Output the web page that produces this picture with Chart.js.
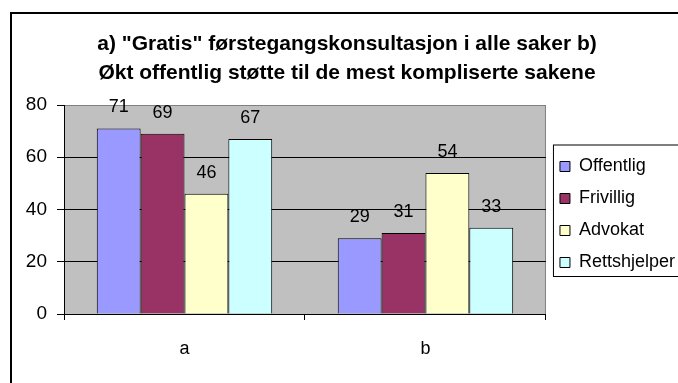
<!DOCTYPE html>
<html lang="no">
<head>
    <meta charset="UTF-8">
    <title>Konsultasjon</title>
    <style>
        body { margin: 0; background: #fff; }
        canvas { display: block; }
    </style>
    <script src="https://cdn.jsdelivr.net/npm/chart.js"></script>
    <script>
        var categories = ['a', 'b'];
        var offentlig = [71, 29];
        var frivillig = [69, 31];
        var advokat = [46, 54];
        var rettshjelper = [67, 33];
        var yTicks = [0, 20, 40, 60, 80];

        var titleLines = [
            'a) "Gratis" førstegangskonsultasjon i alle saker b)',
            'Økt offentlig støtte til de mest kompliserte sakene'
        ];

        var FONT = '"Liberation Sans", Arial, sans-serif';

        // grey plot area + outer frame of the chart
        var backgroundPlugin = {
            id: 'background',
            beforeDraw: function (chart) {
                var ctx = chart.ctx;
                var a = chart.chartArea;
                ctx.save();
                ctx.fillStyle = '#ffffff';
                ctx.fillRect(0, 0, chart.width, chart.height);
                ctx.fillStyle = '#c0c0c0';
                ctx.fillRect(a.left, a.top, a.right - a.left, a.bottom - a.top);
                ctx.strokeStyle = '#808080';
                ctx.lineWidth = 1;
                ctx.strokeRect(a.left + 0.5, a.top + 0.5, a.right - a.left - 1, a.bottom - a.top);
                ctx.fillStyle = '#000000';
                ctx.fillRect(10, 12, chart.width, 2);
                ctx.fillRect(10, 12, 2, chart.height);
                ctx.restore();
            },
            afterDraw: function (chart) {
                // box round the legend
                var lg = chart.legend;
                if (!lg || !lg.legendHitBoxes.length) return;
                var boxes = lg.legendHitBoxes;
                var first = boxes[0];
                var last = boxes[boxes.length - 1];
                var ctx = chart.ctx;
                ctx.save();
                ctx.strokeStyle = '#000000';
                ctx.lineWidth = 1;
                var x = first.left - 6.5;
                var y = first.top - 12.5;
                ctx.strokeRect(x, y, chart.width, last.top + last.height + 5 - y);
                ctx.restore();
            }
        };

        // value printed above every bar
        var valueLabels = {
            id: 'valueLabels',
            afterDatasetsDraw: function (chart) {
                var ctx = chart.ctx;
                ctx.save();
                ctx.font = '18px ' + FONT;
                ctx.fillStyle = '#000000';
                ctx.textAlign = 'center';
                ctx.textBaseline = 'middle';
                chart.data.datasets.forEach(function (ds, i) {
                    var meta = chart.getDatasetMeta(i);
                    meta.data.forEach(function (bar, j) {
                        ctx.fillText(ds.data[j], bar.x, bar.y - 21);
                    });
                });
                ctx.restore();
            }
        };

        window.onload = function () {
            Chart.defaults.font.family = FONT;
            Chart.defaults.font.size = 18;
            Chart.defaults.color = '#000000';

            var ctx = document.getElementById('myBarChart');
            var myChart = new Chart(ctx, {
                type: 'bar',
                data: {
                    labels: categories,
                    datasets: [
                        { label: 'Offentlig', data: offentlig, backgroundColor: '#9999ff' },
                        { label: 'Frivillig', data: frivillig, backgroundColor: '#993366' },
                        { label: 'Advokat', data: advokat, backgroundColor: '#ffffcc' },
                        { label: 'Rettshjelper', data: rettshjelper, backgroundColor: '#ccffff' }
                    ]
                },
                options: {
                    responsive: false,
                    animation: false,
                    devicePixelRatio: 1,
                    datasets: {
                        bar: {
                            borderColor: '#000000',
                            borderWidth: 1,
                            borderSkipped: 'start',
                            categoryPercentage: 0.728,
                            barPercentage: 1
                        }
                    },
                    layout: {
                        padding: { left: 9, right: -7, top: 0, bottom: 0 }
                    },
                    plugins: {
                        title: {
                            display: true,
                            text: titleLines,
                            color: '#000000',
                            font: { size: 21, weight: 'bold', lineHeight: 29 / 21 },
                            padding: { top: 29.5, bottom: 17.5 }
                        },
                        legend: {
                            position: 'right',
                            fullSize: false,
                            // empty title only pushes the items a little down
                            title: { display: true, text: '', font: { size: 10, lineHeight: 1 }, padding: 0 },
                            labels: {
                                boxWidth: 10,
                                boxHeight: 10,
                                padding: 14,
                                color: '#000000',
                                font: { size: 18 }
                            }
                        },
                        tooltip: { enabled: false }
                    },
                    scales: {
                        x: {
                            grid: {
                                drawOnChartArea: false,
                                drawTicks: true,
                                tickLength: 6,
                                tickColor: '#000000'
                            },
                            border: { color: '#000000', width: 1 },
                            ticks: { padding: 18, font: { size: 18 } },
                            afterFit: function (scale) { scale.height = 69; }
                        },
                        y: {
                            min: 0,
                            max: 80,
                            afterBuildTicks: function (scale) {
                                scale.ticks = yTicks.map(function (v) { return { value: v }; });
                            },
                            grid: {
                                color: function (c) {
                                    return c.tick && c.tick.value === 80 ? '#808080' : '#000000';
                                },
                                tickLength: 7,
                                tickColor: '#000000'
                            },
                            border: { color: '#000000', width: 1 },
                            ticks: { padding: 10, font: { size: 19 } },
                            afterFit: function (scale) { scale.width = 55; }
                        }
                    }
                },
                plugins: [backgroundPlugin, valueLabels]
            });
        };
    </script>
</head>
<body>
    <canvas id="myBarChart" width="678" height="383"></canvas>
</body>
</html>
